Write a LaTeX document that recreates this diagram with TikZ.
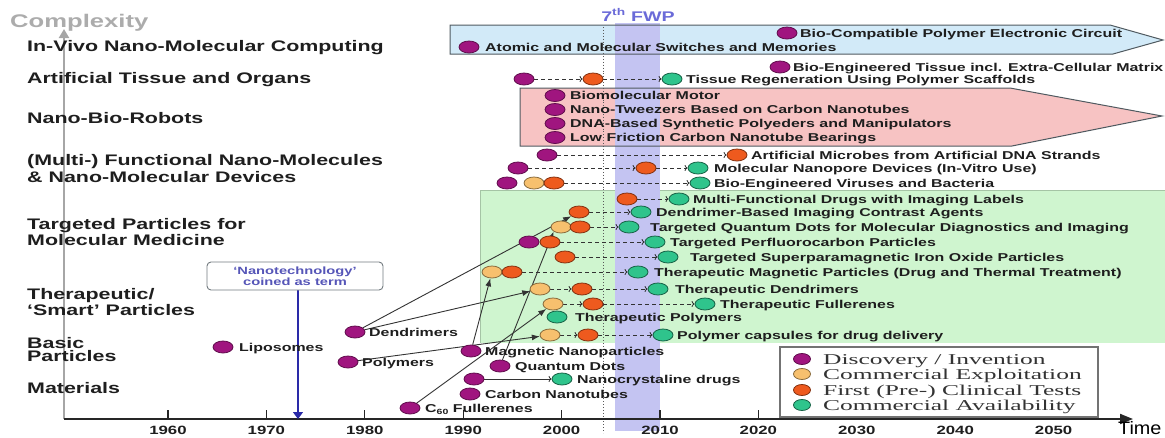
\documentclass[tikz,border=0pt]{standalone}
\usepackage{fontspec}
\usetikzlibrary{shapes.geometric,arrows.meta}
\newfontfamily\sansst[FakeStretch=1.4]{Liberation Sans}
\newfontfamily\seriflg[FakeStretch=1.7]{Liberation Serif}
\newfontfamily\sanstime[FakeStretch=1.1]{Liberation Sans}
\definecolor{cpurple}{HTML}{A0157F}
\definecolor{cpeach}{HTML}{F7C06E}
\definecolor{corange}{HTML}{EE5A1E}
\definecolor{cgreen}{HTML}{2FC48C}
\definecolor{bluebox}{HTML}{D2EAF8}
\definecolor{pinkbox}{HTML}{F7C3C3}
\definecolor{greenbox}{HTML}{CFF5CF}
\definecolor{bandcol}{HTML}{C4C4F2}
\definecolor{fwpcol}{HTML}{6A6AD8}
\definecolor{nanoblue}{HTML}{5656B8}
\definecolor{arrowblue}{HTML}{2A2AA8}
\definecolor{txt}{HTML}{1E1E1E}
\definecolor{boxborder}{HTML}{505A60}
\pgfdeclarelayer{back}
\pgfdeclarelayer{mid}
\pgfsetlayers{back,mid,main}
\tikzset{
  dotbase/.style={ellipse, minimum width=20pt, minimum height=12pt, inner sep=0pt, draw, line width=0.8pt},
  pd/.style={dotbase, fill=cpurple, draw=cpurple!60!black},
  cd/.style={dotbase, fill=cpeach, draw=cpeach!55!black},
  od/.style={dotbase, fill=corange, draw=corange!55!black},
  gd/.style={dotbase, fill=cgreen, draw=cgreen!50!black},
  ev/.style={anchor=west, inner sep=0pt, text=txt, text height=8.2pt, text depth=0pt, font=\sansst\bfseries\fontsize{11.4}{13}\selectfont},
  cat/.style={anchor=west, inner sep=0pt, text=txt, align=left, font=\sansst\bfseries\fontsize{15.3}{13.5}\selectfont},
  ticklab/.style={anchor=base, inner sep=0pt, text=txt, font=\sansst\bfseries\fontsize{12}{13}\selectfont},
  legtxt/.style={anchor=west, inner sep=0pt, text=black!80, text height=10pt, text depth=0pt, font=\seriflg\fontsize{15}{16}\selectfont},
  legdot/.style={minimum width=17pt, minimum height=11pt},
  dlink/.style={draw=black!80, line width=0.8pt, dash pattern=on 4pt off 3pt, -{To[length=3pt,width=6pt]}},
  nlink/.style={draw=black!80, line width=0.8pt, -{To[length=3pt,width=6pt]}},
  slink/.style={draw=black!80, line width=0.9pt, -{Latex[length=8pt,width=6pt]}},
}
\begin{document}
\begin{tikzpicture}[x=1pt,y=-1pt]
\path[use as bounding box] (0,0) rectangle (1165,437);

% ---------- category labels ----------
\node[anchor=west, inner sep=0pt, text=gray!65, font=\sansst\bfseries\fontsize{18.3}{20}\selectfont] (cx) at (10,23) {Complexity};
\node[cat] (c1) at (27,48) {In-Vivo Nano-Molecular Computing};
\node[cat] (c2) at (27,80) {Artificial Tissue and Organs};
\node[cat] (c3) at (27,118) {Nano-Bio-Robots};
\node[cat] (c4) at (27,168.5) {(Multi-) Functional Nano-Molecules\\[1.5pt]\& Nano-Molecular Devices};
\node[cat] (c5) at (27,232) {Targeted Particles for\\Molecular Medicine};
\node[cat] (c6) at (27,302) {Therapeutic/\\‘Smart’ Particles};
\node[cat] (c7) at (27,349.5) {Basic\\Particles};
\node[cat] (c8) at (27,388) {Materials};

\node[font=\sansst\bfseries\fontsize{14}{16}\selectfont, text=fwpcol, inner sep=0pt] (fwp) at (638,15) {7\textsuperscript{th} FWP};

% ---------- top rows ----------
\node[pd] (bcp) at (787,33) {};
\node[ev] (bcpt) at (800,33) {Bio-Compatible Polymer Electronic Circuit};
\node[pd] (ams) at (469,47) {};
\node[ev] (amst) at (485,47) {Atomic and Molecular Switches and Memories};
\node[pd] (bet) at (780,67) {};
\node[ev] (bett) at (793,67) {Bio-Engineered Tissue incl. Extra-Cellular Matrix};
\node[pd] (tr1) at (524,79) {};
\node[od] (tr2) at (593,79) {};
\node[gd] (tr3) at (672,79) {};
\node[ev] (trt) at (686,79) {Tissue Regeneration Using Polymer Scaffolds};

% ---------- nano-bio-robots ----------
\node[pd] (r1) at (555,95.5) {};
\node[ev] (r1t) at (570,95.5) {Biomolecular Motor};
\node[pd] (r2) at (555,109.5) {};
\node[ev] (r2t) at (570,109.5) {Nano-Tweezers Based on Carbon Nanotubes};
\node[pd] (r3) at (555,123.5) {};
\node[ev] (r3t) at (570,123.5) {DNA-Based Synthetic Polyeders and Manipulators};
\node[pd] (r4) at (555,137.5) {};
\node[ev] (r4t) at (570,137.5) {Low Friction Carbon Nanotube Bearings};

% ---------- multi-functional ----------
\node[pd] (am1) at (547,155) {};
\node[od] (am2) at (737,155) {};
\node[ev] (amt) at (751,155) {Artificial Microbes from Artificial DNA Strands};
\node[pd] (mn1) at (518,168) {};
\node[od] (mn2) at (646,168) {};
\node[gd] (mn3) at (698,168) {};
\node[ev] (mnt) at (714,168) {Molecular Nanopore Devices (In-Vitro Use)};
\node[pd] (bv1) at (507,183) {};
\node[cd] (bv2) at (534,183) {};
\node[od] (bv3) at (554,183) {};
\node[gd] (bv4) at (700,183) {};
\node[ev] (bvt) at (714,183) {Bio-Engineered Viruses and Bacteria};

% ---------- targeted / therapeutic ----------
\node[od] (mf1) at (627,199) {};
\node[gd] (mf2) at (679,199) {};
\node[ev] (mft) at (693,199) {Multi-Functional Drugs with Imaging Labels};
\node[od] (db1) at (579,212) {};
\node[gd] (db2) at (641,212) {};
\node[ev] (dbt) at (656,212) {Dendrimer-Based Imaging Contrast Agents};
\node[cd] (tq1) at (561,227) {};
\node[od] (tq2) at (580,227) {};
\node[gd] (tq3) at (629,227) {};
\node[ev] (tqt) at (650,227) {Targeted Quantum Dots for Molecular Diagnostics and Imaging};
\node[pd] (tp1) at (529,242) {};
\node[od] (tp2) at (550,242) {};
\node[gd] (tp3) at (655,242) {};
\node[ev] (tpt) at (670,242) {Targeted Perfluorocarbon Particles};
\node[od] (ts1) at (565,257) {};
\node[gd] (ts2) at (668,257) {};
\node[ev] (tst) at (690,257) {Targeted Superparamagnetic Iron Oxide Particles};
\node[cd] (tm1) at (492,272) {};
\node[od] (tm2) at (512,272) {};
\node[gd] (tm3) at (638,272) {};
\node[ev] (tmt) at (654,272) {Therapeutic Magnetic Particles (Drug and Thermal Treatment)};
\node[cd] (td1) at (540,289) {};
\node[od] (td2) at (582,289) {};
\node[gd] (td3) at (658,289) {};
\node[ev] (tdt) at (675,289) {Therapeutic Dendrimers};
\node[cd] (tf1) at (553,304) {};
\node[od] (tf2) at (593,304) {};
\node[gd] (tf3) at (705,304) {};
\node[ev] (tft) at (720,304) {Therapeutic Fullerenes};
\node[gd] (tpo) at (557,317) {};
\node[ev] (tpot) at (575,317) {Therapeutic Polymers};
\node[cd] (pc1) at (550,335) {};
\node[od] (pc2) at (588,335) {};
\node[gd] (pc3) at (663,335) {};
\node[ev] (pct) at (677,335) {Polymer capsules for drug delivery};

% ---------- basic particles / materials ----------
\node[pd] (lip) at (223,347) {};
\node[ev] (lipt) at (239,347) {Liposomes};
\node[pd] (den) at (355,332) {};
\node[ev] (dent) at (369,332) {Dendrimers};
\node[pd] (pol) at (348,362) {};
\node[ev] (polt) at (362,362) {Polymers};
\node[pd] (mag) at (471,351) {};
\node[ev] (magt) at (485,351) {Magnetic Nanoparticles};
\node[pd] (qd) at (500,366) {};
\node[ev] (qdt) at (515,366) {Quantum Dots};
\node[pd] (nc1) at (474,379) {};
\node[gd] (nc2) at (562,379) {};
\node[ev] (nct) at (577,379) {Nanocrystaline drugs};
\node[pd] (cnt) at (470,394) {};
\node[ev] (cntt) at (485,394) {Carbon Nanotubes};
\node[pd] (c60) at (410,408) {};
\node[ev] (c60t) at (425,408) {C\raisebox{-2.2pt}{\fontsize{7.5}{8}\selectfont 60} Fullerenes};

% ---------- nanotechnology box ----------
\node[draw=boxborder!80, line width=0.9pt, rounded corners=4pt, fill=white, minimum width=176pt, minimum height=28pt, inner sep=0pt, align=center, text=nanoblue, font=\sansst\bfseries\fontsize{10.5}{10.5}\selectfont] (nano) at (295,276) {‘Nanotechnology’\\coined as term};

% ---------- legend ----------
\node[draw=black!55, line width=1.8pt, fill=white, minimum width=318pt, minimum height=70pt, inner sep=0pt] (leg) at (939,382) {};
\node[pd, legdot] (lg1) at (802,359) {};
\node[legtxt] (lg1t) at (823,359) {Discovery / Invention};
\node[cd, legdot] (lg2) at (802,374) {};
\node[legtxt] (lg2t) at (823,374) {Commercial Exploitation};
\node[od, legdot] (lg3) at (802,390) {};
\node[legtxt] (lg3t) at (823,390) {First (Pre-) Clinical Tests};
\node[gd, legdot] (lg4) at (802,405) {};
\node[legtxt] (lg4t) at (823,405) {Commercial Availability};

% ---------- axes coordinates ----------
\coordinate (org) at (64,419);
\coordinate (ytop) at (64,29);
\coordinate (xend) at (1133,419);
\coordinate (nanotip) at (298,419);
\node[anchor=base west, inner sep=0pt, text=black, font=\sanstime\fontsize{18}{19}\selectfont] (timel) at (1118,434) {Time};

% ---------- background layer ----------
\begin{pgfonlayer}{back}
\fill[bluebox] (450,25) -- (1110,25) -- (1163,40) -- (1113,54) -- (450,54) -- cycle;
\fill[pinkbox] (520,88) -- (1010,88) -- (1162,116) -- (1012,146) -- (520,146) -- cycle;
\fill[greenbox] (480,190) rectangle (1165,343);
\draw[greenbox!80!black, line width=0.5pt] (480,343) -- (480,190) -- (1165,190);
\fill[bandcol] (615,23) rectangle (660,431);
\draw[boxborder, line width=1pt] (450,25) -- (1110,25) -- (1163,40) -- (1113,54) -- (450,54) -- cycle;
\draw[boxborder, line width=1pt] (520,88) -- (1010,88) -- (1162,116) -- (1012,146) -- (520,146) -- cycle;
\draw[black!65, line width=0.9pt, dotted] (603,27) -- (603,433);
\draw[gray!70, line width=2.2pt, -{Triangle[length=9pt,width=10pt]}] (org) -- (ytop);
\foreach \i/\yr in {0/1960,1/1970,2/1980,3/1990,4/2000,5/2010,6/2020,7/2030,8/2040,9/2050}{
  \coordinate (tk\i) at ({168+98.4*\i},419);
  \draw[black!85, line width=1.2pt] (tk\i) -- ++(0,-9);
  \node[ticklab] (tl\i) at ({168+98.4*\i},434.5) {\yr};
}
\draw[black!85, line width=2pt, -{Triangle[length=13pt,width=10pt]}] (org) -- (xend);
\end{pgfonlayer}

% ---------- connectors ----------
\begin{pgfonlayer}{mid}
\draw[arrowblue, line width=1.3pt, -{Triangle[length=7pt,width=10pt]}] (nano.south -| nanotip) -- (nanotip);
\draw[dlink] (tr1) -- (tr2);
\draw[dlink] (tr2) -- (tr3);
\draw[dlink] (am1) -- (am2);
\draw[dlink] (mn1) -- (mn2);
\draw[dlink] (mn2) -- (mn3);
\draw[dlink] (bv3) -- (bv4);
\draw[dlink] (mf1) -- (mf2);
\draw[dlink] (db1) -- (db2);
\draw[dlink] (tq2) -- (tq3);
\draw[dlink] (tp2) -- (tp3);
\draw[dlink] (ts1) -- (ts2);
\draw[dlink] (tm2) -- (tm3);
\draw[dlink] (td1) -- (td2);
\draw[dlink] (td2) -- (td3);
\draw[dlink] (tf1) -- (tf2);
\draw[dlink] (tf2) -- (tf3);
\draw[dlink] (pc1) -- (pc2);
\draw[dlink] (pc2) -- (pc3);
\draw[nlink] (nc1) -- (nc2);
\draw[slink] (den) -- (db1);
\draw[slink] (den) -- (td1);
\draw[slink] (pol) -- (pc1);
\draw[slink] (mag) -- (tm1);
\draw[slink] (qd) -- (tq1.south west);
\draw[slink] (c60) -- (tf1);
\end{pgfonlayer}
\end{tikzpicture}
\end{document}
